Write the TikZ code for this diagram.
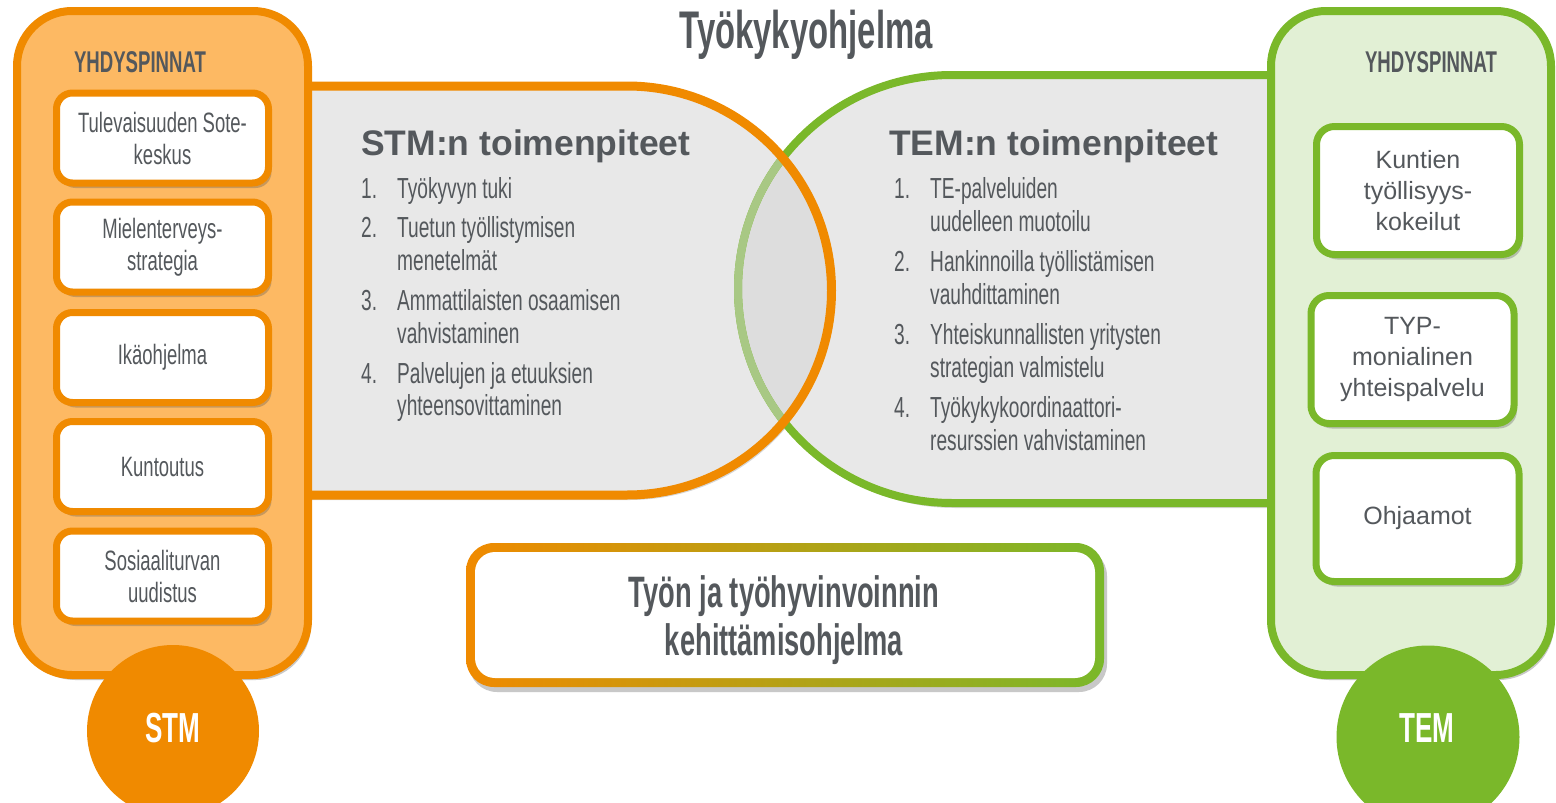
\documentclass[tikz,border=0pt]{standalone}
\usepackage{fontspec}
\setmainfont{Liberation Sans}
\newfontfamily\agency[FakeStretch=0.66]{Liberation Sans}
\newfontfamily\agencyb[FakeStretch=0.62]{Liberation Sans}
\usetikzlibrary{shadows}
\definecolor{orng}{RGB}{240,138,0}
\definecolor{orngl}{RGB}{253,185,99}
\definecolor{grn}{RGB}{122,184,42}
\definecolor{grnl}{RGB}{226,240,213}
\definecolor{grnf}{RGB}{168,200,132}
\definecolor{txt}{RGB}{84,88,92}
\definecolor{panelgray}{RGB}{232,232,232}
\definecolor{lensgray}{RGB}{221,221,221}
\tikzset{
  softshadow/.style={drop shadow={shadow xshift=3pt, shadow yshift=-5pt, opacity=0.3, fill=black!70}},
  sidepanel/.style={line width=8pt, rounded corners=55pt, minimum width=291pt, minimum height=664pt, inner sep=0pt, softshadow},
  lbox/.style={draw=orng, line width=7pt, fill=white, rounded corners=16pt, minimum width=212pt, minimum height=90pt, align=center, text=txt, font=\agency\fontsize{28}{32}\selectfont, inner sep=0pt, softshadow},
  rbox/.style={draw=grn, line width=7pt, fill=white, rounded corners=18pt, minimum width=203pt, minimum height=128pt, align=center, text=txt, font=\fontsize{25}{31}\selectfont, inner sep=0pt, softshadow},
  lst/.style={anchor=base west, inner sep=0pt, text=txt, font=\agency\fontsize{29}{33}\selectfont},
  headtxt/.style={anchor=base, inner sep=0pt, text=txt, font=\agencyb\bfseries\fontsize{30}{34}\selectfont},
  acttitle/.style={anchor=base west, inner sep=0pt, text=txt, font=\bfseries\fontsize{35.5}{40}\selectfont},
  ministry/.style={circle, inner sep=0pt, draw=none},
  mintxt/.style={anchor=base, inner sep=0pt, text=white, font=\agencyb\bfseries\fontsize{42}{48}\selectfont},
  bigtxt/.style={anchor=base, inner sep=0pt, text=txt, font=\agencyb\bfseries\fontsize{44}{48}\selectfont},
}
\def\stmpath{(290,86) -- (627,86) arc[start angle=-90, end angle=90, radius=204.5] -- (290,495) -- cycle}
\def\tempath{(1290,75) -- (952,75) arc[start angle=-90, end angle=-270, radius=214] -- (1290,503) -- cycle}
\begin{document}
\begin{tikzpicture}[x=1pt,y=-1pt]
\useasboundingbox[fill=white] (0,0) rectangle (1556,803);

% title
\node[anchor=base, inner sep=0pt, text=txt, font=\agencyb\bfseries\fontsize{53}{58}\selectfont] (title) at (806,48) {Työkykyohjelma};

% middle shapes: shadows
\fill[black, opacity=0.16, shift={(3,5)}] \stmpath;
\fill[black, opacity=0.16, shift={(3,5)}] \tempath;
% fills
\fill[panelgray] \stmpath;
\fill[panelgray] \tempath;
\begin{scope}
  \clip \stmpath;
  \fill[lensgray] \tempath;
\end{scope}
\draw[grn, line width=8pt] \tempath;
\begin{scope}
  \clip \stmpath;
  \draw[grnf, line width=8pt] \tempath;
\end{scope}
\draw[orng, line width=9pt] \stmpath;

% STM actions
\node[acttitle] (stmtitle) at (361,155) {STM:n toimenpiteet};
\foreach \yy/\nn [count=\k] in {198/1., 237/2., 310/3., 383/4.}
  \node[lst] (sn\k) at (361,\yy) {\nn};
\foreach \yy/\lbl [count=\k] in {198/Työkyvyn tuki, 237/Tuetun työllistymisen, 270/menetelmät, 310/Ammattilaisten osaamisen, 343/vahvistaminen, 383/Palvelujen ja etuuksien, 415/yhteensovittaminen}
  \node[lst] (st\k) at (397,\yy) {\lbl};

% TEM actions
\node[acttitle] (temtitle) at (889,155) {TEM:n toimenpiteet};
\foreach \yy/\nn [count=\k] in {198/1., 271/2., 344/3., 417/4.}
  \node[lst] (tn\k) at (894,\yy) {\nn};
\foreach \yy/\lbl [count=\k] in {198/TE-palveluiden, 231/uudelleen muotoilu, 271/Hankinnoilla työllistämisen, 304/vauhdittaminen, 344/Yhteiskunnallisten yritysten, 377/strategian valmistelu, 417/Työkykykoordinaattori-, 450/resurssien vahvistaminen}
  \node[lst] (tt\k) at (930,\yy) {\lbl};

% left panel
\node[sidepanel, draw=orng, fill=orngl] (stmpanel) at (162.5,343) {};
\node[headtxt] (stmhead) at (140,72) {YHDYSPINNAT};
\node[lbox] (l1) at (162.5,138) {Tulevaisuuden Sote-\\keskus};
\node[lbox] (l2) at (162.5,247) {Mielenterveys-\\strategia};
\node[lbox] (l3) at (162.5,357.5) {Ikäohjelma};
\node[lbox] (l4) at (162.5,466.5) {Kuntoutus};
\node[lbox] (l5) at (162.5,576) {Sosiaaliturvan\\uudistus};
\node[ministry, fill=orng, minimum size=172pt] (stmc) at (173,731) {};
\node[mintxt] (stmt) at (173,742) {STM};

% right panel
\node[sidepanel, draw=grn, fill=grnl, minimum width=280pt] (tempanel) at (1411,343) {};
\node[headtxt] (temhead) at (1431,72) {YHDYSPINNAT};
\node[rbox] (r1) at (1418,190.5) {Kuntien\\työllisyys-\\kokeilut};
\node[rbox] (r2) at (1412.5,359.5) {TYP-\\monialinen\\yhteispalvelu};
\node[rbox, minimum height=126pt] (r3) at (1417.5,518.5) {Ohjaamot};
\node[ministry, fill=grn, minimum size=183pt] (temc) at (1428,737) {};
\node[mintxt] (temt) at (1427,742) {TEM};

% bottom box
\node[rounded corners=28pt, minimum width=638pt, minimum height=144pt, inner sep=0pt, left color=orng, right color=grn, softshadow] (kbox) at (785,615) {};
\node[rounded corners=20pt, minimum width=620pt, minimum height=126pt, inner sep=0pt, fill=white] (kin) at (785,615) {};
\node[bigtxt] (ktxt1) at (784,607) {Työn ja työhyvinvoinnin};
\node[bigtxt] (ktxt2) at (784,655) {kehittämisohjelma};
\end{tikzpicture}
\end{document}
